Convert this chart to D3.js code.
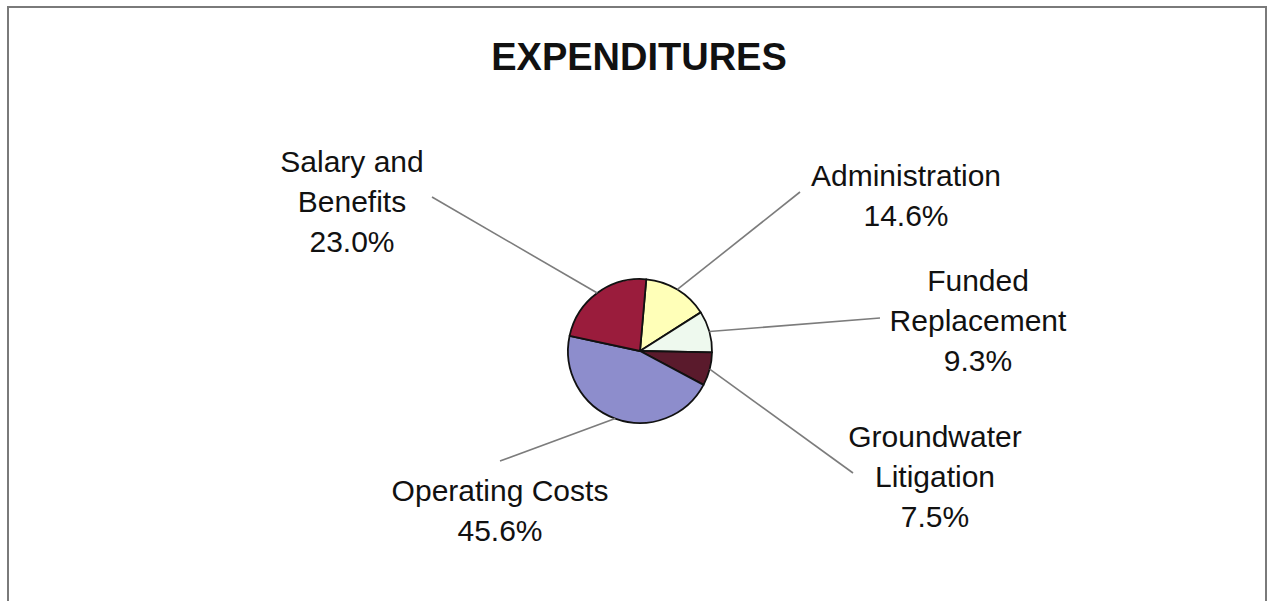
<!DOCTYPE html>
<html>
<head>
<meta charset="utf-8">
<script src="https://cdn.jsdelivr.net/npm/d3@7"></script>
<style>
  html, body { margin: 0; padding: 0; background: #ffffff; }
  svg { display: block; }
</style>
</head>
<body>
<svg id="chart" width="1274" height="601"></svg>
<script>
// ---- data ----
const title = "EXPENDITURES";
const categories = ["Administration", "Funded Replacement", "Groundwater Litigation", "Operating Costs", "Salary and Benefits"];
const values = [14.6, 9.3, 7.5, 45.6, 23.0];
const labelLines = [["Administration"], ["Funded", "Replacement"], ["Groundwater", "Litigation"], ["Operating Costs"], ["Salary and", "Benefits"]];
const colors = ["#ffffb8", "#eef9ee", "#5a1a2c", "#8d8dcc", "#9a1c3c"];

// ---- layout (not data) ----
const W = 1274, H = 601;
const cx = 640, cy = 351, R = 72;
const startOffset = 5 * Math.PI / 180;
// label text centres (x, first baseline) and leader-line end points
const labelLayout = [
  { x: 906, y: 186, lx: 800, ly: 192 },
  { x: 978, y: 291, lx: 880, ly: 318 },
  { x: 935, y: 447, lx: 853, ly: 473 },
  { x: 500, y: 501, lx: 500, ly: 461 },
  { x: 352, y: 172, lx: 432, ly: 197 }
];
const lineGap = 40;

const svg = d3.select("#chart");

// frame
svg.append("rect")
  .attr("x", 8).attr("y", 7)
  .attr("width", 1258).attr("height", 620)
  .attr("fill", "#ffffff")
  .attr("stroke", "#7a7a7a")
  .attr("stroke-width", 2);

// title
svg.append("text")
  .attr("x", 639).attr("y", 70)
  .attr("text-anchor", "middle")
  .attr("font-family", "Liberation Sans, Arial, sans-serif")
  .attr("font-weight", "bold")
  .attr("font-size", 38)
  .attr("fill", "#111")
  .text(title);

const pie = d3.pie().sort(null).value(d => d)
  .startAngle(startOffset).endAngle(startOffset + 2 * Math.PI);
const arcs = pie(values);
const arc = d3.arc().innerRadius(0).outerRadius(R);

const g = svg.append("g").attr("transform", `translate(${cx},${cy})`);

// leader lines
svg.append("g").selectAll("line")
  .data(arcs)
  .join("line")
  .attr("x1", d => cx + R * Math.sin((d.startAngle + d.endAngle) / 2))
  .attr("y1", d => cy - R * Math.cos((d.startAngle + d.endAngle) / 2))
  .attr("x2", (d, i) => labelLayout[i].lx)
  .attr("y2", (d, i) => labelLayout[i].ly)
  .attr("stroke", "#7c7c7c")
  .attr("stroke-width", 1.6);

// slices
g.selectAll("path")
  .data(arcs)
  .join("path")
  .attr("d", arc)
  .attr("fill", (d, i) => colors[i])
  .attr("stroke", "#111")
  .attr("stroke-width", 1.8)
  .attr("stroke-linejoin", "round");

// labels
const fmt = d3.format(".1f");
const lbl = svg.append("g")
  .attr("font-family", "Liberation Sans, Arial, sans-serif")
  .attr("font-size", 30)
  .attr("fill", "#111")
  .attr("text-anchor", "middle");

categories.forEach((c, i) => {
  const lines = labelLines[i].concat([fmt(values[i]) + "%"]);
  const t = lbl.append("text")
    .attr("x", labelLayout[i].x)
    .attr("y", labelLayout[i].y);
  lines.forEach((s, k) => {
    t.append("tspan")
      .attr("x", labelLayout[i].x)
      .attr("y", labelLayout[i].y + k * lineGap)
      .text(s);
  });
});
</script>
</body>
</html>
